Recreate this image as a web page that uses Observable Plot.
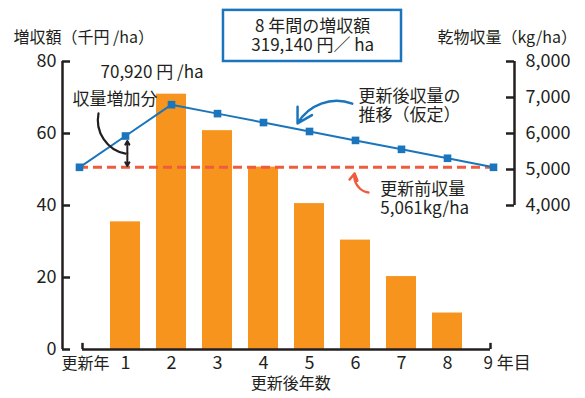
<!DOCTYPE html>
<html><head><meta charset="utf-8">
<script src="https://cdn.jsdelivr.net/npm/d3@7"></script>
<script src="https://cdn.jsdelivr.net/npm/@observablehq/plot@0.6"></script>
<style>html,body{margin:0;padding:0;background:#fff} svg{display:block}</style>
</head><body><div id="chart"></div>
<script>
// ---- data ----
const xYears = [0, 1, 2, 3, 4, 5, 6, 7, 8, 9];
const xTickLabels = ["更新年", "1", "2", "3", "4", "5", "6", "7", "8", "9 年目"];
const barYears = [1, 2, 3, 4, 5, 6, 7, 8];
const gainThousandYen = [35.46, 70.92, 60.79, 50.66, 40.53, 30.39, 20.26, 10.13];
const yieldKg = [5061, 5930, 6800, 6552, 6304, 6056, 5808, 5560, 5312, 5061];
const preYieldKg = 5061;
const leftTicks = [0, 20, 40, 60, 80];
const rightTicks = [4000, 5000, 6000, 7000, 8000];

// right axis (kg/ha) shares the left scale: 4,000–8,000 kg ↔ 40–80
const kgToLeft = kg => kg / 100;

const bars = barYears.map((year, i) => ({year, v: gainThousandYen[i]}));
const yieldRows = xYears.map((year, i) => ({year, v: kgToLeft(yieldKg[i])}));

const F = "'Noto Sans CJK JP', 'Noto Sans', sans-serif";
const ink = "#231f20";
const blue = "#1a75bc";
const orange = "#f7941d";
const red = "#ef5b3c";
const W = 585, H = 398, mL = 62, mR = 71, mT = 61, mB = 49;
const x0px = 79, stepPx = 46;
const xDomain = [(mL - x0px) / stepPx, 9 + (W - mR - (x0px + 9 * stepPx)) / stepPx];
const tick = 8 / stepPx;
const halfBar = 15 / stepPx;

const chart = Plot.plot({
  width: W, height: H,
  marginLeft: mL, marginRight: mR, marginTop: mT, marginBottom: mB,
  style: {fontFamily: F, color: ink, background: "#fff", overflow: "visible"},
  x: {domain: xDomain, axis: null},
  y: {domain: [0, 80], axis: null},
  marks: [
    Plot.rect(bars, {x1: d => d.year - halfBar, x2: d => d.year + halfBar, y1: 0, y2: "v", fill: orange}),
    Plot.ruleY([preYieldKg], {y: kgToLeft, x1: 0, x2: 9, stroke: red, strokeWidth: 3, strokeDasharray: "9,5"}),
    Plot.line(yieldRows, {x: "year", y: "v", stroke: blue, strokeWidth: 2}),
    Plot.dot(yieldRows, {x: "year", y: "v", symbol: "square", fill: blue, r: 4.3}),

    // left axis
    Plot.ruleX([xDomain[0]], {y1: 0, y2: 80, stroke: ink, strokeWidth: 2.5}),
    Plot.ruleY(leftTicks, {x1: xDomain[0], x2: xDomain[0] + tick, stroke: ink, strokeWidth: 2.5}),
    Plot.axisY(leftTicks, {anchor: "left", label: null, tickSize: 0, tickPadding: 6, fontSize: 18, fill: ink}),
    // right axis
    Plot.ruleX([xDomain[1]], {y1: 40, y2: 80, stroke: ink, strokeWidth: 2.5}),
    Plot.ruleY(rightTicks, {y: kgToLeft, x1: xDomain[1] - tick, x2: xDomain[1], stroke: ink, strokeWidth: 2.5}),
    Plot.axisY(rightTicks.map(kgToLeft), {anchor: "right", label: null, tickSize: 0, tickPadding: 11, fontSize: 18, fill: ink,
      tickFormat: v => d3.format(",")(Math.round(v * 100))}),
    // x axis
    Plot.ruleY([0], {x1: 0, x2: 9, insetLeft: 3, insetRight: 3, stroke: ink, strokeWidth: 2.5}),
    Plot.ruleX([0], {y1: 0, y2: 1.7, dx: 3, stroke: ink, strokeWidth: 2.5}),
    Plot.ruleX([9], {y1: 0, y2: 1.7, dx: -3, stroke: ink, strokeWidth: 2.5}),
    Plot.text(xYears.slice(1, 9), {x: d => d, frameAnchor: "bottom", dy: 19, text: (d, i) => xTickLabels[i + 1], fontSize: 18, fill: ink}),
    Plot.text([0], {x: d => d, frameAnchor: "bottom", dy: 19, dx: 6, text: () => xTickLabels[0], fontSize: 16, fill: ink}),
    Plot.text([9], {x: d => d, frameAnchor: "bottom", dy: 19, dx: -10, textAnchor: "start", text: () => xTickLabels[9], fontSize: 17, fill: ink}),
    Plot.text(["更新後年数"], {x: 4.59, frameAnchor: "bottom", dy: 39, fontSize: 16, fill: ink}),

    // axis titles
    Plot.text(["増収額（千円 /ha）"], {x: -1.435, y: 86.7, textAnchor: "start", fontSize: 16, fill: ink}),
    Plot.text(["乾物収量（kg/ha）"], {x: 7.78, y: 86.7, textAnchor: "start", fontSize: 16, fill: ink}),

    // total box
    Plot.rect([0], {x1: 3.13, x2: 7.0, y1: 80, y2: 94.2, fill: "#fff", stroke: blue, strokeWidth: 2.5}),
    Plot.text(["8 年間の増収額\n319,140 円／ ha"], {x: 5.07, y: 87.3, fontSize: 17, lineHeight: 1.15, fill: ink}),

    // annotations
    Plot.text(["70,920 円 /ha"], {x: 0.457, y: 76.9, textAnchor: "start", fontSize: 17, fill: ink}),
    Plot.text(["収量増加分"], {x: -0.152, y: 69.4, textAnchor: "start", fontSize: 17, fill: ink}),
    Plot.arrow([0], {x1: 0.413, y1: 65.6, x2: 1.0, y2: 54.4, bend: -45, headLength: 0, stroke: ink, strokeWidth: 2.2}),
    Plot.arrow([0], {x1: 1.04, y1: 54.5, x2: 1.04, y2: 57.9, headLength: 7, stroke: ink, strokeWidth: 2}),
    Plot.arrow([0], {x1: 1.04, y1: 54.5, x2: 1.04, y2: 51.0, headLength: 7, stroke: ink, strokeWidth: 2}),

    Plot.text(["更新後収量の\n推移（仮定）"], {x: 6.065, y: 67.8, textAnchor: "start", fontSize: 17, lineHeight: 1.15, fill: ink}),
    Plot.arrow([0], {x1: 5.93, y1: 68.3, x2: 4.74, y2: 62.8, bend: -40, headLength: 10, stroke: blue, strokeWidth: 2.5}),

    Plot.text(["更新前収量\n5,061kg/ha"], {x: 6.54, y: 42.05, textAnchor: "start", fontSize: 17, lineHeight: 1.15, fill: ink}),
    Plot.arrow([0], {x1: 6.28, y1: 43.6, x2: 5.98, y2: 48.9, bend: 45, headLength: 9, stroke: red, strokeWidth: 2.5})
  ]
});
document.getElementById("chart").append(chart);
</script>
</body></html>
